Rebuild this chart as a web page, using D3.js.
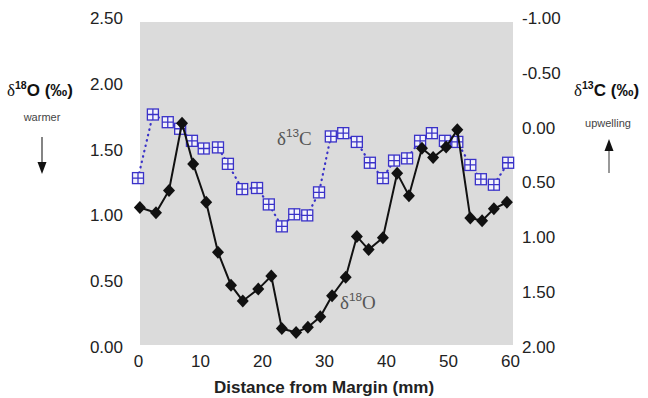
<!DOCTYPE html>
<html>
<head>
<meta charset="utf-8">
<script src="https://cdn.jsdelivr.net/npm/d3@7"></script>
<style>
  body { margin: 0; background: #fff; }
  text { font-family: "Liberation Sans", Arial, sans-serif; }
</style>
</head>
<body>
<div id="theChart"></div>
<script>
// distance (mm) and d18O (left axis)
const o18Dist = [0.3, 2.9, 5, 7.1, 8.9, 11, 12.9, 15, 16.9, 19.4, 21.5, 23.2, 25.5, 27.4, 29.4,
	31.3, 33.5, 35.3, 37.2, 39.5, 41.8, 43.7, 45.8, 47.6, 49.7, 51.5, 53.6, 55.5, 57.4, 59.5]
const o18Vals = [1.06, 1.02, 1.19, 1.70, 1.39, 1.10, 0.72, 0.47, 0.35, 0.44, 0.54, 0.14, 0.11, 0.15, 0.23,
	0.39, 0.53, 0.84, 0.74, 0.83, 1.32, 1.15, 1.51, 1.44, 1.52, 1.65, 0.98, 0.96, 1.05, 1.10]

// distance (mm) and d13C (right axis, reversed)
const c13Dist = [0, 2.4, 4.8, 6.8, 8.7, 10.6, 12.9, 14.5, 16.8, 19.2, 21.1, 23.2, 25.2, 27.3, 29.2,
	31.1, 33.1, 35.3, 37.4, 39.5, 41.3, 43.4, 45.5, 47.4, 49.5, 51.5, 53.6, 55.3, 57.4, 59.7]
const c13Vals = [0.46, -0.12, -0.05, 0.01, 0.12, 0.19, 0.18, 0.33, 0.56, 0.55, 0.70, 0.90, 0.79, 0.80, 0.59,
	0.08, 0.05, 0.13, 0.32, 0.46, 0.30, 0.28, 0.12, 0.05, 0.12, 0.13, 0.34, 0.47, 0.52, 0.32]

const xTicks = [0, 10, 20, 30, 40, 50, 60]
const leftTicks = [0, 0.5, 1, 1.5, 2, 2.5]
const rightTicks = [-1, -0.5, 0, 0.5, 1, 1.5, 2]

const w = 648
const h = 398
const margin = { top: 18, right: 138, bottom: 51, left: 138 }

const svg = d3
	.select("#theChart")
	.append("svg")
	.attr("width", w)
	.attr("height", h)

const x = d3.scaleLinear().domain([0, 60]).range([margin.left, w - margin.right])
const yL = d3.scaleLinear().domain([0, 2.5]).range([h - margin.bottom, margin.top])
const yR = d3.scaleLinear().domain([-1, 2]).range([margin.top, h - margin.bottom])

// gray plot background
svg.append("rect")
	.attr("x", x(0) + 2)
	.attr("y", margin.top + 4)
	.attr("width", x(60) - x(0) + 1)
	.attr("height", h - margin.bottom - margin.top - 6)
	.attr("fill", "#dbdbdb")

// axes, no lines, only labels
const fmt2 = d => d3.format(".2f")(d).replace("−", "-")
const axisFont = g => {
	g.select(".domain").remove()
	g.selectAll("text")
		.style("font-size", "17px")
		.style("font-family", "Liberation Sans, Arial, sans-serif")
		.attr("fill", "#222")
}

svg.append("g")
	.attr("transform", `translate(${margin.left},0)`)
	.call(d3.axisLeft(yL).tickValues(leftTicks).tickSize(0).tickPadding(15).tickFormat(fmt2))
	.call(axisFont)

svg.append("g")
	.attr("transform", `translate(${w - margin.right},0)`)
	.call(d3.axisRight(yR).tickValues(rightTicks).tickSize(0).tickPadding(12).tickFormat(fmt2))
	.call(axisFont)

svg.append("g")
	.attr("transform", `translate(0,${h - margin.bottom})`)
	.call(d3.axisBottom(x).tickValues(xTicks).tickSize(0).tickPadding(8).tickFormat(d3.format("d")))
	.call(axisFont)

// d13C series: dotted line + boxed cross markers
const c13 = c13Dist.map((d, i) => ({ x: d, y: c13Vals[i] }))
const blue = "#3a32c8"

svg.append("path")
	.datum(c13)
	.attr("fill", "none")
	.attr("stroke", blue)
	.attr("stroke-width", 2.2)
	.attr("stroke-dasharray", "0.5,5")
	.attr("stroke-linecap", "round")
	.attr("d", d3.line().x(d => x(d.x)).y(d => yR(d.y)))

const boxes = svg.selectAll(".box")
	.data(c13)
	.enter()
	.append("g")
	.attr("class", "box")
	.attr("transform", d => `translate(${x(d.x)},${yR(d.y)})`)

boxes.append("rect")
	.attr("x", -5.5).attr("y", -5.5)
	.attr("width", 11).attr("height", 11)
	.attr("fill", "#f2f2fb")
	.attr("stroke", blue)
	.attr("stroke-width", 1.3)
boxes.append("path")
	.attr("d", "M0,-5.5V5.5M-5.5,0H5.5")
	.attr("stroke", blue)
	.attr("stroke-width", 1.3)

// d18O series: solid black line + diamonds
const o18 = o18Dist.map((d, i) => ({ x: d, y: o18Vals[i] }))

svg.append("path")
	.datum(o18)
	.attr("fill", "none")
	.attr("stroke", "#111")
	.attr("stroke-width", 2)
	.attr("d", d3.line().x(d => x(d.x)).y(d => yL(d.y)))

svg.selectAll(".dia")
	.data(o18)
	.enter()
	.append("path")
	.attr("class", "dia")
	.attr("transform", d => `translate(${x(d.x)},${yL(d.y)})`)
	.attr("d", "M0,-6.5L6,0L0,6.5L-6,0Z")
	.attr("fill", "#111")

// delta labels: serif delta + superscript mass number + rest
const serif = "Liberation Serif, Times New Roman, serif"
function deltaLabel(px, py, sup, rest, size, color, bold, restSerif) {
	const t = svg.append("text")
		.attr("x", px)
		.attr("y", py)
		.attr("fill", color)
		.style("font-size", size + "px")
		.style("font-weight", bold ? "bold" : "normal")
	t.append("tspan").text("δ").style("font-family", serif).style("font-weight", "normal")
	t.append("tspan").text(sup).attr("dy", -size * 0.4).style("font-size", (size * 0.62) + "px")
	const r = t.append("tspan").text(rest).attr("dy", size * 0.4)
	if (restSerif) r.style("font-family", serif)
	return t
}

deltaLabel(277, 145, "13", "C", 19, "#555", false, true)
deltaLabel(340, 309, "18", "O", 19, "#555", false, true)

// axis titles
deltaLabel(7, 96, "18", "O (‰)", 17, "#111", true, false)
deltaLabel(574, 96, "13", "C (‰)", 17, "#111", true, false)

svg.append("text")
	.attr("x", 42).attr("y", 121)
	.attr("text-anchor", "middle")
	.attr("fill", "#444")
	.style("font-size", "11px")
	.text("warmer")

svg.append("text")
	.attr("x", 608).attr("y", 127)
	.attr("text-anchor", "middle")
	.attr("fill", "#444")
	.style("font-size", "11px")
	.text("upwelling")

// arrows
svg.append("line")
	.attr("x1", 42).attr("y1", 137).attr("x2", 42).attr("y2", 166)
	.attr("stroke", "#333").attr("stroke-width", 1.2)
svg.append("path")
	.attr("d", "M37.5,162L42,174L46.5,162Z")
	.attr("fill", "#111")

svg.append("line")
	.attr("x1", 609).attr("y1", 146).attr("x2", 609).attr("y2", 173)
	.attr("stroke", "#555").attr("stroke-width", 1.2)
svg.append("path")
	.attr("d", "M604.5,151L609,139L613.5,151Z")
	.attr("fill", "#111")

svg.append("text")
	.attr("x", (x(0) + x(60)) / 2)
	.attr("y", 393)
	.attr("text-anchor", "middle")
	.attr("fill", "#222")
	.style("font-size", "17px")
	.style("font-weight", "bold")
	.text("Distance from Margin (mm)")
</script>
</body>
</html>
